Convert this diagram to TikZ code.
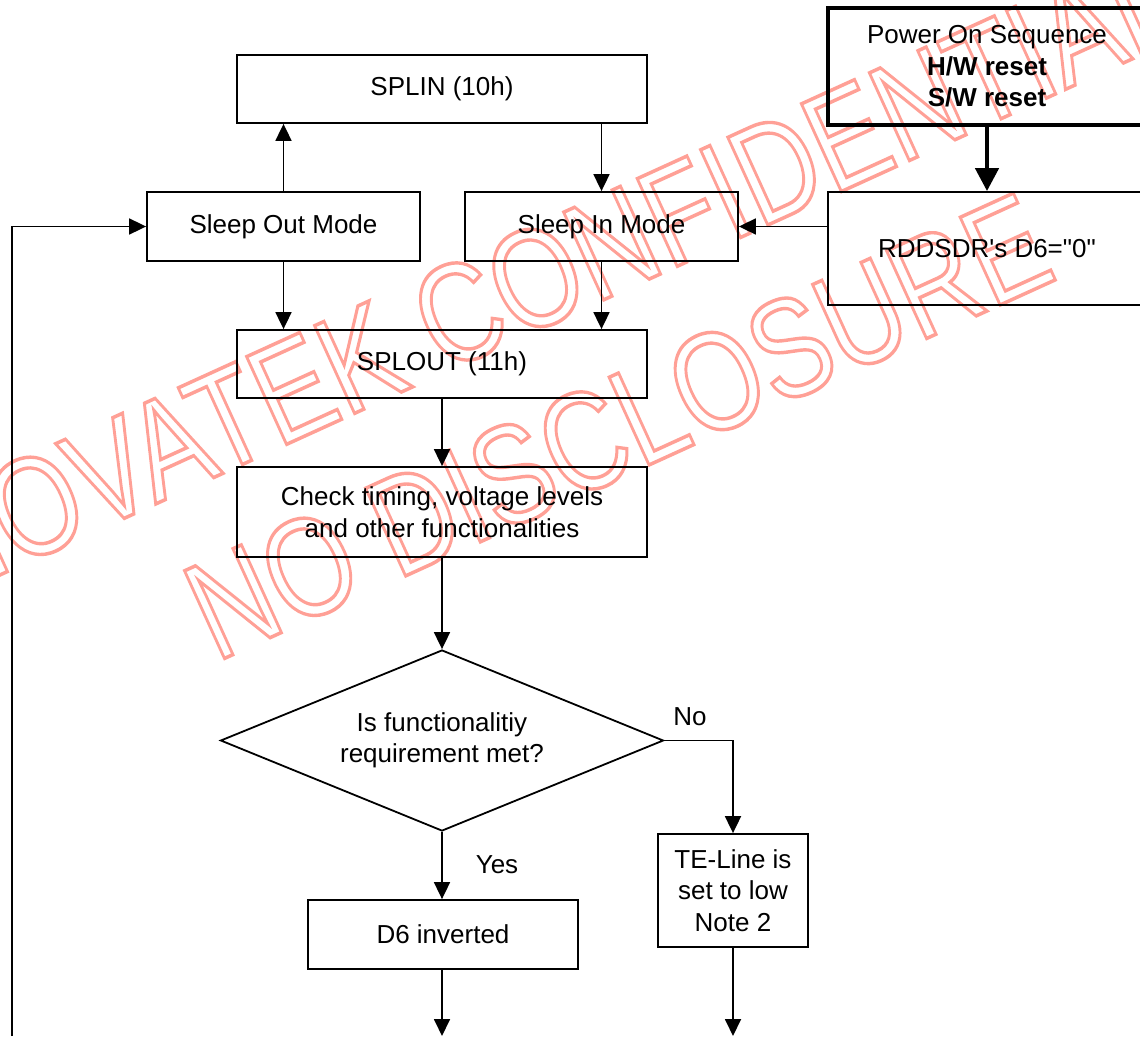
\documentclass[tikz,border=0pt]{standalone}
\usepackage{fontspec}
\newfontfamily\flowfont{Liberation Sans}
\usetikzlibrary{shapes.geometric,arrows.meta}
\definecolor{wmred}{RGB}{255,160,150}
% hollow (stroked) letters for the watermark
\newcommand{\wmtext}[1]{\scalebox{0.8}[1]{\special{pdf:literal direct 1 Tr 3.5 w}#1\special{pdf:literal direct 0 Tr}}}

\begin{document}
\begin{tikzpicture}[x=1pt, y=-1pt, font=\flowfont\fontsize{26}{31.5}\selectfont,
    box/.style  ={draw, line width=1.8pt, minimum width=273pt, minimum height=69pt, align=center, inner sep=2pt},
    wide/.style ={box, minimum width=410pt, minimum height=68pt},
    dia/.style  ={draw, diamond, line width=1.8pt, shape aspect=2.45, minimum width=443pt, minimum height=181pt, inner sep=0pt, align=center},
    arr/.style  ={-{Triangle[length=17pt,width=16pt]}, line width=1.8pt},
    bigarr/.style={-{Triangle[length=23pt,width=23pt]}, line width=4.5pt},
    wmark/.style={anchor=base, rotate=24.5, inner sep=0pt, text=wmred, font=\flowfont\fontsize{140}{160}\selectfont},
  ]
  \useasboundingbox (0,0) rectangle (1140,1036);
  % watermark
  \node[wmark] (wm1) at (566,317) {\wmtext{NOVATEK CONFIDENTIAL}};
  \node[wmark] (wm2) at (638,470) {\wmtext{NO DISCLOSURE}};
  % sleep in / sleep out
  \node[wide] (splin) at (442,89) {SPLIN (10h)};
  \node[box] (sleepout) at (283.5,226.5) {Sleep Out Mode};
  \node[box] (sleepin) at (601.5,226.5) {Sleep In Mode};
  \node[box, line width=4.5pt, minimum width=318pt, minimum height=117pt] (power) at (987,66.5)
    {Power On Sequence\\\textbf{H/W reset}\\\textbf{S/W reset}};
  \node[box, minimum width=318pt, minimum height=113pt] (rddsdr) at (987,248.5) {RDDSDR's D6="0"};
  \node[wide] (splout) at (442,364) {SPLOUT (11h)};
  % check and decision
  \node[wide, minimum height=90pt] (check) at (442,512) {Check timing, voltage levels\\and other functionalities};
  \node[dia] (dec) at (442,740.5) {Is functionalitiy\\requirement met?};
  \node[box, minimum width=270pt] (inv) at (443,934.5) {D6 inverted};
  \node[box, minimum width=150pt, minimum height=113pt] (teline) at (733,890.5) {TE-Line is\\set to low\\Note 2};
  \node (no) at (690,717) {No};
  \node (yes) at (497,865) {Yes};
  \coordinate (bottom) at (0,1036);
  \coordinate (loop) at (12,1036);
  % connectors
  \draw[bigarr] (power) -- (rddsdr);
  \draw[arr] (rddsdr.west |- sleepin.east) -- (sleepin.east);
  \draw[arr] (splin.south -| sleepin.north) -- (sleepin.north);
  \draw[arr] (sleepout.north) -- (sleepout.north |- splin.south);
  \draw[arr] (sleepout.south) -- (sleepout.south |- splout.north);
  \draw[arr] (sleepin.south) -- (sleepin.south |- splout.north);
  \draw[arr] (splout) -- (check);
  \draw[arr] (check) -- (dec);
  \draw[arr] (dec.east) -| (teline.north);
  \draw[arr] (dec.south) -- (dec.south |- inv.north);
  \draw[arr] (inv.south -| dec.south) -- (dec.south |- bottom);
  \draw[arr] (teline.south) -- (teline.south |- bottom);
  \draw[arr] (loop) |- (sleepout.west);
\end{tikzpicture}
\end{document}
